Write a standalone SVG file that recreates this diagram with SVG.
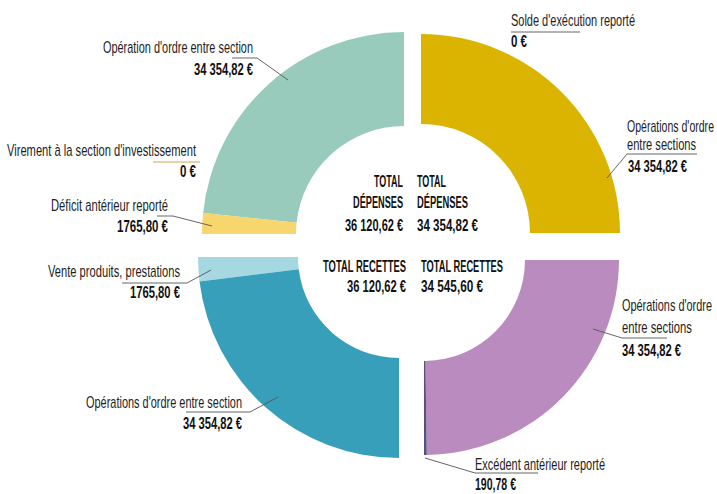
<svg xmlns="http://www.w3.org/2000/svg" width="717" height="494" viewBox="0 0 717 494">
<style>
.lbl{font-family:"Liberation Sans Narrow","Liberation Sans",sans-serif;font-size:17px;fill:#1e1e1e;}
.val{font-family:"Liberation Sans Narrow","Liberation Sans",sans-serif;font-size:16px;font-weight:bold;fill:#111;}
.tot{font-family:"Liberation Sans Narrow","Liberation Sans",sans-serif;font-size:16px;font-weight:bold;fill:#111;}
.ld{fill:none;stroke:#555;stroke-width:0.9;}
</style>
<rect width="717" height="494" fill="#fff"/>
<g id="depenses-gauche">
<path id="tl-ops" d="M 203.11 212.89 A 202 202 0 0 1 404 32 L 404 126 A 108 108 0 0 0 296.59 222.71 Z" fill="#99cbbc"/>
<path id="tl-deficit" d="M 202 234 A 202 202 0 0 1 203.11 212.89 L 296.59 222.71 A 108 108 0 0 0 296 234 Z" fill="#f7d66e"/>
</g>
<g id="depenses-droite">
<path id="tr-ops" d="M 421 34 A 199 199 0 0 1 620 233 L 530 233 A 109 109 0 0 0 421 124 Z" fill="#dab400"/>
</g>
<g id="recettes-gauche">
<path id="bl-vente" d="M 198 257 A 201 201 0 0 0 199.5 281.5 L 298.75 269.31 A 101 101 0 0 1 298 257 Z" fill="#a5d8e0"/>
<path id="bl-ops" d="M 199.5 281.5 A 201 201 0 0 0 399 458 L 399 358 A 101 101 0 0 1 298.75 269.31 Z" fill="#389fbb"/>
</g>
<g id="recettes-droite">
<path id="br-ops" d="M 619 260 A 195 195 0 0 1 426.72 454.98 L 425.41 360.99 A 101 101 0 0 0 525 260 Z" fill="#ba8bbe"/>
<path id="br-excedent" d="M 426.72 454.98 A 195 195 0 0 1 424 455 L 424 361 A 101 101 0 0 0 425.41 360.99 Z" fill="#55507f"/>
</g>
<g id="connectors">
<polyline class="ld" points="232,58 257,58 288,80"/>
<line x1="153" y1="162" x2="200" y2="162" stroke="#c9a94a" stroke-width="1"/>
<polyline class="ld" points="157,216 173,216 212,226"/>
<line class="ld" x1="511" y1="32" x2="580" y2="32"/>
<polyline class="ld" points="697,154 627,154 607,178"/>
<polyline class="ld" points="122,283 187,283 211,270"/>
<polyline class="ld" points="186,412 250,412 278,397"/>
<polyline class="ld" points="593,329 622,338 667,338"/>
<polyline class="ld" points="425,458 475,473 538,473"/>
</g>
<g id="labels">
<text class="lbl" x="103" y="53" textLength="150" lengthAdjust="spacingAndGlyphs">Opération d'ordre entre section</text>
<text class="val" x="194" y="75" textLength="59" lengthAdjust="spacingAndGlyphs">34 354,82 €</text>
<text class="lbl" x="7" y="156" textLength="189" lengthAdjust="spacingAndGlyphs">Virement à la section d'investissement</text>
<text class="val" x="180" y="177" textLength="16" lengthAdjust="spacingAndGlyphs">0 €</text>
<text class="lbl" x="51" y="211" textLength="117" lengthAdjust="spacingAndGlyphs">Déficit antérieur reporté</text>
<text class="val" x="117" y="232" textLength="51" lengthAdjust="spacingAndGlyphs">1765,80 €</text>
<text class="lbl" x="511" y="26" textLength="124" lengthAdjust="spacingAndGlyphs">Solde d'exécution reporté</text>
<text class="val" x="511" y="47" textLength="16" lengthAdjust="spacingAndGlyphs">0 €</text>
<text class="lbl" x="627" y="132" textLength="87" lengthAdjust="spacingAndGlyphs">Opérations d'ordre</text>
<text class="lbl" x="627" y="150" textLength="69" lengthAdjust="spacingAndGlyphs">entre sections</text>
<text class="val" x="628" y="172" textLength="59" lengthAdjust="spacingAndGlyphs">34 354,82 €</text>
<text class="lbl" x="48" y="277" textLength="132" lengthAdjust="spacingAndGlyphs">Vente produits, prestations</text>
<text class="val" x="130" y="298" textLength="50" lengthAdjust="spacingAndGlyphs">1765,80 €</text>
<text class="lbl" x="86" y="408" textLength="156" lengthAdjust="spacingAndGlyphs">Opérations d'ordre entre section</text>
<text class="val" x="183" y="429" textLength="59" lengthAdjust="spacingAndGlyphs">34 354,82 €</text>
<text class="lbl" x="622" y="311" textLength="90" lengthAdjust="spacingAndGlyphs">Opérations d'ordre</text>
<text class="lbl" x="622" y="333" textLength="70" lengthAdjust="spacingAndGlyphs">entre sections</text>
<text class="val" x="622" y="356" textLength="59" lengthAdjust="spacingAndGlyphs">34 354,82 €</text>
<text class="lbl" x="475" y="470" textLength="130" lengthAdjust="spacingAndGlyphs">Excédent antérieur reporté</text>
<text class="val" x="475" y="490" textLength="41" lengthAdjust="spacingAndGlyphs">190,78 €</text>
</g>
<g id="totaux">
<text class="tot" x="374" y="187" textLength="29" lengthAdjust="spacingAndGlyphs">TOTAL</text>
<text class="tot" x="353" y="208" textLength="50" lengthAdjust="spacingAndGlyphs">DÉPENSES</text>
<text class="tot" x="345" y="231" textLength="58" lengthAdjust="spacingAndGlyphs">36 120,62 €</text>
<text class="tot" x="417" y="187" textLength="29" lengthAdjust="spacingAndGlyphs">TOTAL</text>
<text class="tot" x="417" y="208" textLength="51" lengthAdjust="spacingAndGlyphs">DÉPENSES</text>
<text class="tot" x="417" y="231" textLength="61" lengthAdjust="spacingAndGlyphs">34 354,82 €</text>
<text class="tot" x="323" y="272" textLength="83" lengthAdjust="spacingAndGlyphs">TOTAL RECETTES</text>
<text class="tot" x="347" y="292" textLength="59" lengthAdjust="spacingAndGlyphs">36 120,62 €</text>
<text class="tot" x="421" y="272" textLength="82" lengthAdjust="spacingAndGlyphs">TOTAL RECETTES</text>
<text class="tot" x="421" y="292" textLength="62" lengthAdjust="spacingAndGlyphs">34 545,60 €</text>
</g>
</svg>
